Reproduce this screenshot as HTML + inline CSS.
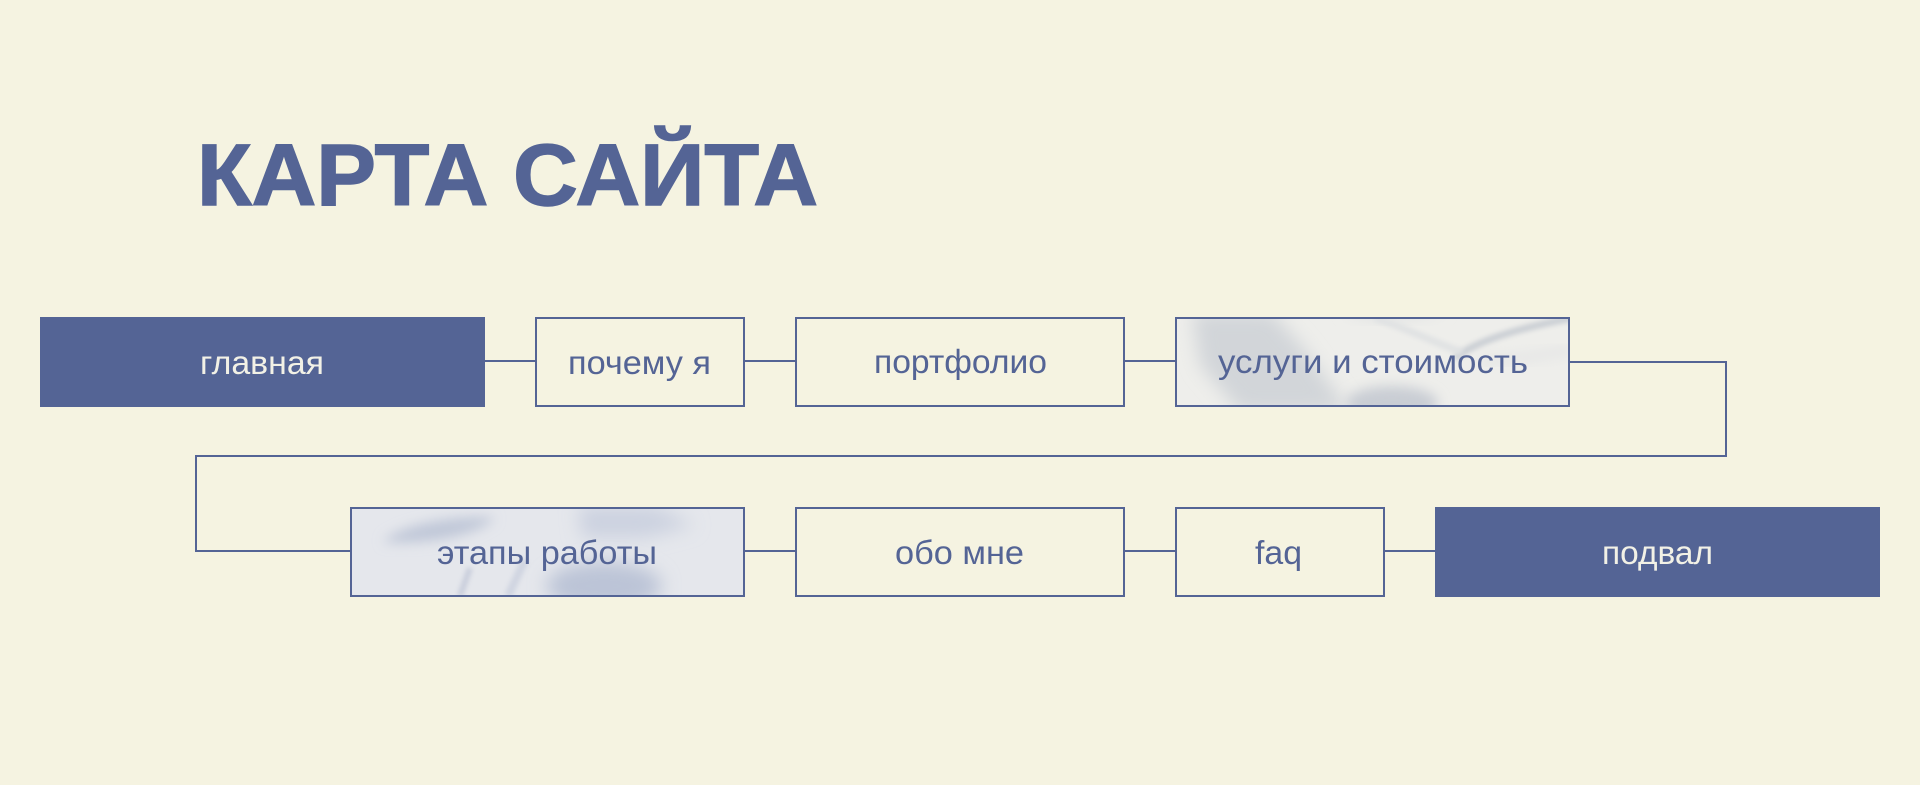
<!DOCTYPE html>
<html lang="ru">
<head>
<meta charset="utf-8">
<title>Карта сайта</title>
<style>
html,body{margin:0;padding:0;background:#f5f3e1;width:1920px;height:785px;overflow:hidden}
svg{display:block}
text{font-family:"Liberation Sans",sans-serif}
.l{font-size:33px;fill:#546495}
.w{font-size:33px;fill:#f2f1e6}
</style>
</head>
<body>
<svg width="1920" height="785" viewBox="0 0 1920 785" xmlns="http://www.w3.org/2000/svg">
<defs>
<filter id="b9" x="-60%" y="-60%" width="220%" height="220%"><feGaussianBlur stdDeviation="9"/></filter>
<filter id="b6" x="-60%" y="-60%" width="220%" height="220%"><feGaussianBlur stdDeviation="6"/></filter>
<filter id="b3" x="-60%" y="-60%" width="220%" height="220%"><feGaussianBlur stdDeviation="2.5"/></filter>
<clipPath id="c1"><rect x="1176" y="318" width="393" height="88"/></clipPath>
<clipPath id="c2"><rect x="351" y="508" width="393" height="88"/></clipPath>
</defs>
<rect width="1920" height="785" fill="#f5f3e1"/>

<text x="197" y="205" font-size="87" font-weight="700" fill="#546495" stroke="#546495" stroke-width="1.5" textLength="621" lengthAdjust="spacingAndGlyphs">КАРТА САЙТА</text>

<g fill="none" stroke="#546495" stroke-width="2">
<path d="M485 361H536"/>
<path d="M744 361H796"/>
<path d="M1124 361H1176"/>
<path d="M1569 362H1726V456H196V551H351"/>
<path d="M744 551H796"/>
<path d="M1124 551H1176"/>
<path d="M1384 551H1435"/>
</g>

<rect x="40" y="317" width="445" height="90" fill="#546495"/>
<rect x="1435" y="507" width="445" height="90" fill="#546495"/>

<g clip-path="url(#c1)">
<rect x="1176" y="318" width="393" height="88" fill="#eeeeeb"/>
<path d="M1192 312H1272L1305 350L1350 412H1240L1200 365Z" fill="#d2d5d9" filter="url(#b9)"/>
<path d="M1340 312C1370 325 1410 322 1450 312Z" fill="#dfe1e2" filter="url(#b6)"/>
<ellipse cx="1392" cy="403" rx="46" ry="17" fill="#c9cdd4" filter="url(#b6)"/>
<path d="M1455 358C1480 338 1530 326 1572 318" fill="none" stroke="#ccd0d5" stroke-width="7" filter="url(#b3)"/>
<path d="M1375 318C1410 330 1440 345 1462 352" fill="none" stroke="#e0e2e3" stroke-width="7" filter="url(#b3)"/>
<path d="M1480 360C1510 362 1540 355 1572 350" fill="none" stroke="#e2e3e4" stroke-width="7" filter="url(#b6)"/>
</g>
<rect x="1176" y="318" width="393" height="88" fill="none" stroke="#546495" stroke-width="2"/>

<g clip-path="url(#c2)">
<rect x="351" y="508" width="393" height="88" fill="#e5e7ec"/>
<path d="M383 542C400 524 460 514 495 518C485 530 440 546 383 542Z" fill="#c0c7d8" filter="url(#b6)"/>
<path d="M578 506H655L695 525L645 538H582Z" fill="#ccd2e0" filter="url(#b9)"/>
<ellipse cx="604" cy="586" rx="58" ry="24" fill="#bcc4d7" filter="url(#b9)"/>
<path d="M470 568L460 596" stroke="#c9cedc" stroke-width="6" fill="none" filter="url(#b3)"/>
<path d="M525 560L508 596" stroke="#d0d5e1" stroke-width="8" fill="none" filter="url(#b3)"/>
</g>
<rect x="351" y="508" width="393" height="88" fill="none" stroke="#546495" stroke-width="2"/>

<g fill="none" stroke="#546495" stroke-width="2">
<rect x="536" y="318" width="208" height="88"/>
<rect x="796" y="318" width="328" height="88"/>
<rect x="796" y="508" width="328" height="88"/>
<rect x="1176" y="508" width="208" height="88"/>
</g>

<text class="w" x="200" y="374" textLength="124" lengthAdjust="spacingAndGlyphs">главная</text>
<text class="l" x="568" y="374" textLength="143" lengthAdjust="spacingAndGlyphs">почему я</text>
<text class="l" x="874" y="373" textLength="173" lengthAdjust="spacingAndGlyphs">портфолио</text>
<text class="l" x="1218" y="373" textLength="310" lengthAdjust="spacingAndGlyphs">услуги и стоимость</text>
<text class="l" x="437" y="564" textLength="220" lengthAdjust="spacingAndGlyphs">этапы работы</text>
<text class="l" x="895" y="564" textLength="129" lengthAdjust="spacingAndGlyphs">обо мне</text>
<text class="l" x="1255" y="564" textLength="47" lengthAdjust="spacingAndGlyphs">faq</text>
<text class="w" x="1602" y="564" textLength="111" lengthAdjust="spacingAndGlyphs">подвал</text>
</svg>
</body>
</html>
